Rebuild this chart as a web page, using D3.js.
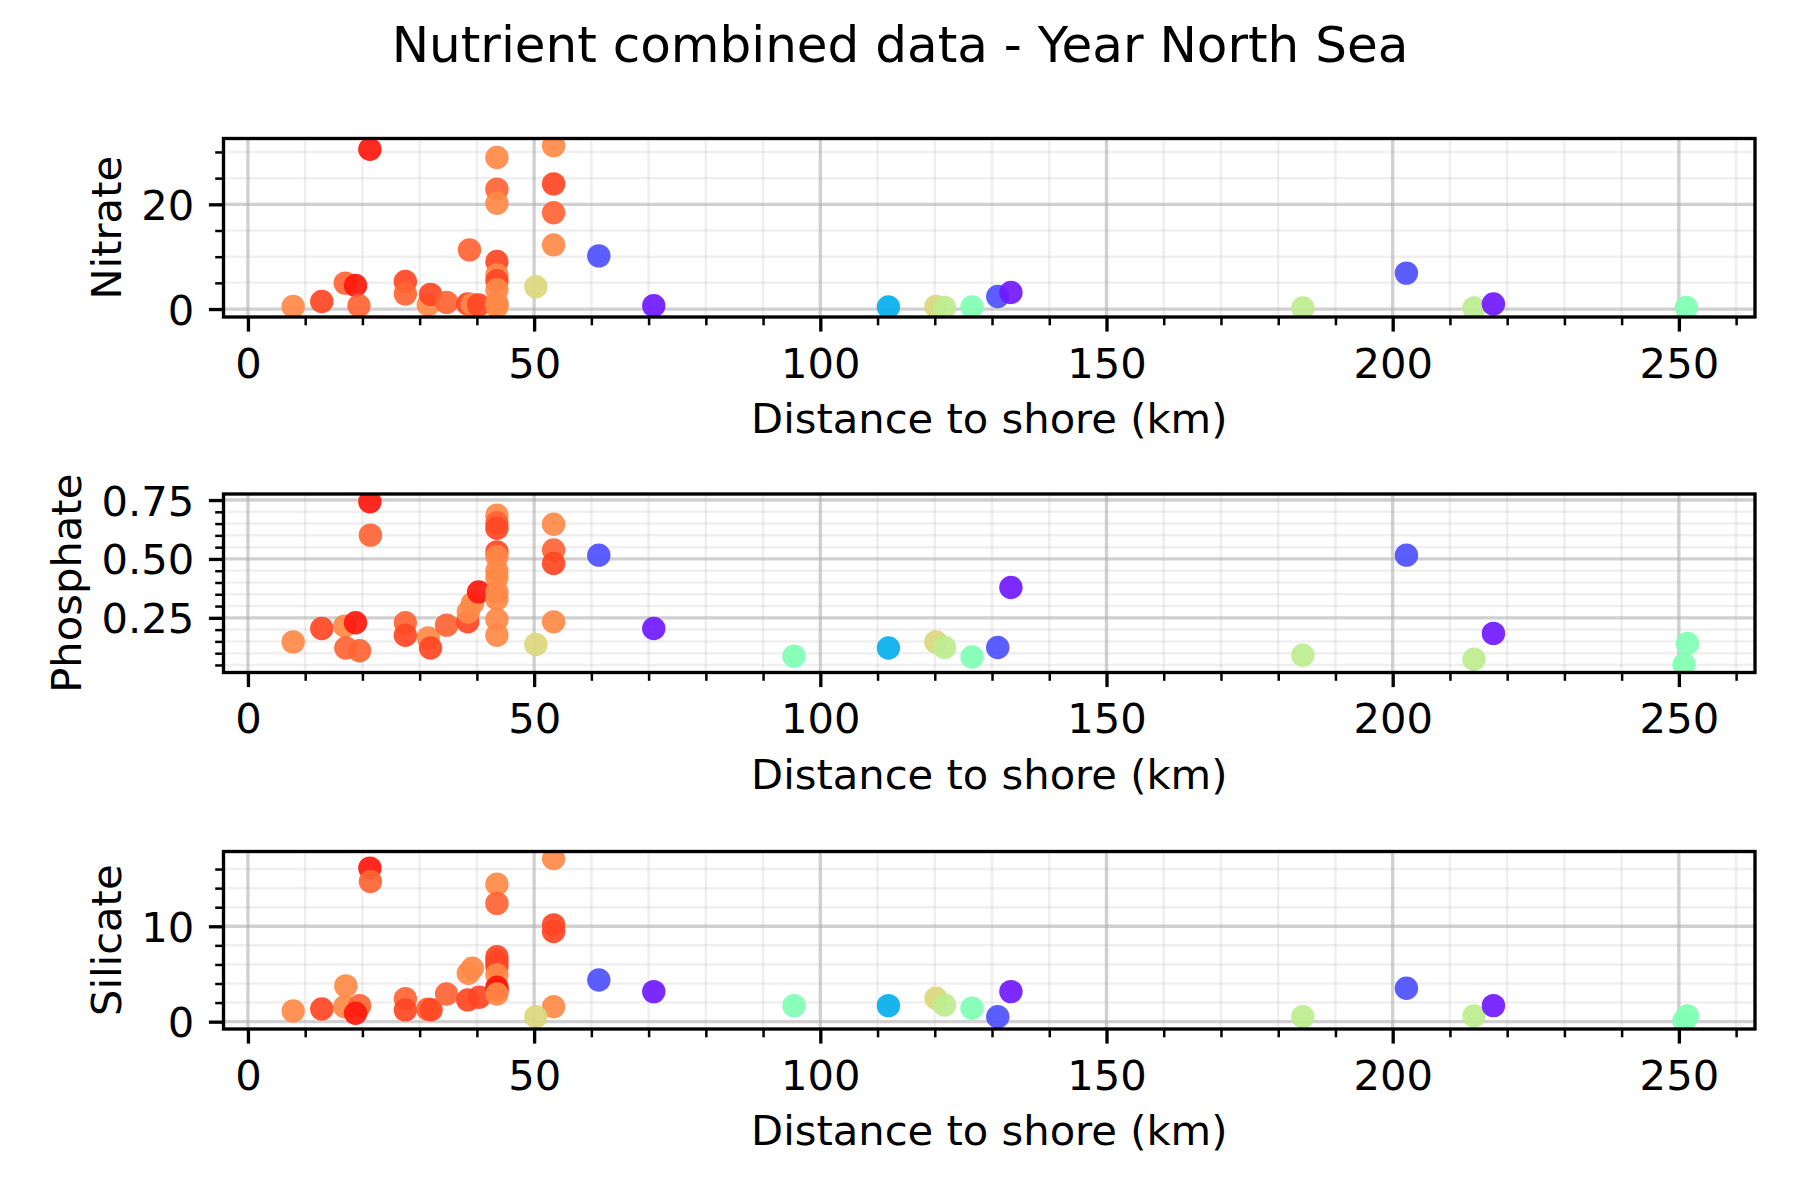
<!DOCTYPE html>
<html><head><meta charset="utf-8">
<script src="https://cdn.jsdelivr.net/npm/d3@7"></script>
<style>
body{margin:0;background:#fff}
svg{display:block}
text{font-family:"DejaVu Sans",sans-serif;fill:#000}
</style>
</head><body>
<svg id="chart" width="1800" height="1200"></svg>
<script>
// ---------------- data ----------------
const chartTitle = "Nutrient combined data - Year North Sea";
const xLabel = "Distance to shore (km)";
const panelNames = ["Nitrate", "Phosphate", "Silicate"];

const xLimits = [-4.27, 263.3];
const xMajorTicks = [0, 50, 100, 150, 200, 250];
const xMinorTicks = [10, 20, 30, 40, 60, 70, 80, 90, 110, 120, 130, 140, 160, 170, 180, 190, 210, 220, 230, 240, 260];

const nitrateLimits = [-1.52, 32.57];
const nitrateTicks = [0, 20];
const nitrateMinor = [5, 10, 15, 25, 30];
const nitrateTickLabels = ["0", "20"];

const phosphateLimits = [0.018, 0.7756];
const phosphateTicks = [0.25, 0.50, 0.75];
const phosphateMinor = [0.05, 0.10, 0.15, 0.20, 0.30, 0.35, 0.40, 0.45, 0.55, 0.60, 0.65, 0.70];
const phosphateTickLabels = ["0.25", "0.50", "0.75"];

const silicateLimits = [-0.77, 17.84];
const silicateTicks = [0, 10];
const silicateMinor = [2, 4, 6, 8, 12, 14, 16];
const silicateTickLabels = ["0", "10"];

// colour variable (0..1 on the rainbow colour map), one level per colour seen
const colourLevel = {R: 0.97, RO: 0.91, OR: 0.87, O: 0.82, K: 0.68, LG: 0.62, M: 0.50, C: 0.24, B: 0.10, P: 0.03};

// [distance to shore (km), value, colour]
const nitratePoints = [
  [7.9, 0.5, "O"], [12.9, 1.45, "RO"], [17.0, 4.95, "OR"], [18.8, 4.5, "R"], [19.4, 0.63, "OR"],
  [21.3, 30.5, "R"], [27.5, 5.26, "RO"], [27.5, 2.9, "OR"], [31.5, 0.82, "O"], [31.9, 2.8, "RO"],
  [34.7, 1.27, "OR"], [38.7, 11.3, "OR"], [38.4, 0.95, "RO"], [39.2, 0.9, "O"], [40.3, 0.8, "RO"],
  [43.5, 28.95, "O"], [43.5, 22.9, "OR"], [43.5, 20.2, "O"], [43.5, 9.07, "RO"], [43.5, 6.5, "O"],
  [43.5, 5.4, "RO"], [43.5, 3.7, "O"], [43.5, 1.1, "O"], [43.5, 0.5, "O"], [50.3, 4.25, "K"],
  [53.4, 31.2, "O"], [53.4, 23.9, "RO"], [53.4, 18.4, "OR"], [53.4, 12.25, "O"], [61.3, 10.15, "B"],
  [70.9, 0.63, "P"], [111.9, 0.38, "C"], [120.2, 0.5, "K"], [121.7, 0.3, "LG"], [126.5, 0.38, "M"],
  [131.0, 2.4, "B"], [133.3, 3.17, "P"], [184.3, 0.2, "LG"], [202.4, 6.86, "B"], [214.2, 0.19, "LG"],
  [217.6, 0.95, "P"], [251.3, 0.3, "M"]
];

const phosphatePoints = [
  [7.9, 0.148, "O"], [12.9, 0.205, "RO"], [16.9, 0.215, "O"], [17.1, 0.122, "OR"], [18.8, 0.229, "R"],
  [19.5, 0.11, "OR"], [21.3, 0.743, "R"], [21.4, 0.601, "OR"], [27.5, 0.229, "OR"], [27.5, 0.176, "RO"],
  [31.5, 0.165, "O"], [31.9, 0.122, "RO"], [34.7, 0.219, "OR"], [38.4, 0.233, "RO"], [38.5, 0.275, "O"],
  [39.2, 0.311, "O"], [40.3, 0.36, "R"],
  [43.5, 0.686, "O"], [43.5, 0.654, "OR"], [43.5, 0.63, "RO"], [43.5, 0.53, "RO"], [43.5, 0.51, "O"],
  [43.5, 0.45, "O"], [43.5, 0.42, "O"], [43.5, 0.36, "O"], [43.5, 0.33, "O"], [43.5, 0.243, "O"], [43.5, 0.176, "O"],
  [53.4, 0.647, "O"], [53.4, 0.538, "OR"], [53.4, 0.481, "RO"], [53.4, 0.233, "O"],
  [50.3, 0.137, "K"], [61.3, 0.516, "B"], [70.9, 0.205, "P"], [95.4, 0.087, "M"], [111.9, 0.122, "C"],
  [120.2, 0.148, "K"], [121.7, 0.124, "LG"], [126.5, 0.084, "M"], [131.0, 0.124, "B"], [133.3, 0.379, "P"],
  [184.3, 0.091, "LG"], [202.4, 0.516, "B"], [214.2, 0.074, "LG"], [217.6, 0.184, "P"],
  [251.5, 0.141, "M"], [250.9, 0.052, "M"]
];

const silicatePoints = [
  [7.9, 1.12, "O"], [12.9, 1.33, "RO"], [17.1, 3.75, "O"], [16.9, 1.57, "O"], [19.5, 1.68, "OR"],
  [18.8, 0.88, "R"], [21.3, 16.1, "R"], [21.4, 14.7, "OR"], [27.5, 2.4, "OR"], [27.5, 1.23, "RO"],
  [31.4, 1.3, "OR"], [32.0, 1.25, "RO"], [34.7, 2.9, "OR"], [38.4, 2.28, "RO"], [38.5, 5.08, "O"],
  [39.2, 5.6, "O"], [40.4, 2.56, "RO"],
  [43.5, 14.4, "O"], [43.5, 12.4, "OR"], [43.5, 6.8, "RO"], [43.5, 6.3, "RO"], [43.5, 5.77, "RO"],
  [43.5, 4.9, "O"], [43.5, 3.6, "R"], [43.5, 3.3, "R"], [43.5, 2.9, "O"],
  [53.4, 17.1, "O"], [53.4, 10.15, "RO"], [53.4, 9.45, "RO"], [53.4, 1.57, "O"],
  [50.3, 0.52, "K"], [61.3, 4.37, "B"], [70.9, 3.15, "P"], [95.4, 1.68, "M"], [111.9, 1.68, "C"],
  [120.2, 2.45, "K"], [121.7, 1.75, "LG"], [126.5, 1.4, "M"], [131.0, 0.52, "B"], [133.3, 3.15, "P"],
  [184.3, 0.52, "LG"], [202.4, 3.5, "B"], [214.2, 0.6, "LG"], [217.6, 1.68, "P"],
  [251.5, 0.6, "M"], [250.9, 0.1, "M"]
];

// ---------------- layout & style ----------------
const svg = d3.select("#chart");
const axLeft = 223.5, axRight = 1755;
const panelTops = [138.5, 494, 851.5];
const panelBottoms = [317, 672.5, 1029];
const fontPx = 41.67, titlePx = 50;
const majorTick = 14.6, minorTick = 8.3, tickPad = 14.6;
const spineW = 3.33;
const markerR = 11.7;

// matplotlib "rainbow" colour map
function rainbow(t) {
  const r = Math.min(1, Math.abs(2 * t - 0.5));
  const g = Math.sin(Math.PI * t);
  const b = Math.cos(Math.PI * t / 2);
  return d3.rgb(255 * r, 255 * g, 255 * b).formatHex();
}
const colour = d3.scaleSequential(rainbow).domain([0, 1]);

const x = d3.scaleLinear().domain(xLimits).range([axLeft, axRight]);

svg.append("text")
  .attr("x", 900).attr("y", 62)
  .attr("text-anchor", "middle")
  .style("font-size", titlePx + "px")
  .text(chartTitle);

const panels = [
  {name: panelNames[0], pts: nitratePoints, lim: nitrateLimits, ticks: nitrateTicks, minor: nitrateMinor, labels: nitrateTickLabels},
  {name: panelNames[1], pts: phosphatePoints, lim: phosphateLimits, ticks: phosphateTicks, minor: phosphateMinor, labels: phosphateTickLabels},
  {name: panelNames[2], pts: silicatePoints, lim: silicateLimits, ticks: silicateTicks, minor: silicateMinor, labels: silicateTickLabels}
];

panels.forEach((p, i) => {
  const top = panelTops[i], bottom = panelBottoms[i];
  const y = d3.scaleLinear().domain(p.lim).range([bottom, top]);
  const g = svg.append("g");

  // grid (minor then major)
  const grid = g.append("g");
  grid.selectAll("line.xmin").data(xMinorTicks).join("line")
    .attr("x1", d => x(d)).attr("x2", d => x(d)).attr("y1", top).attr("y2", bottom)
    .attr("stroke", "#b0b0b0").attr("stroke-opacity", 0.2).attr("stroke-width", 2.5);
  grid.selectAll("line.ymin").data(p.minor).join("line")
    .attr("y1", d => y(d)).attr("y2", d => y(d)).attr("x1", axLeft).attr("x2", axRight)
    .attr("stroke", "#b0b0b0").attr("stroke-opacity", 0.2).attr("stroke-width", 2.5);
  grid.selectAll("line.xmaj").data(xMajorTicks).join("line")
    .attr("x1", d => x(d)).attr("x2", d => x(d)).attr("y1", top).attr("y2", bottom)
    .attr("stroke", "#b0b0b0").attr("stroke-opacity", 0.6).attr("stroke-width", 3.33);
  grid.selectAll("line.ymaj").data(p.ticks).join("line")
    .attr("y1", d => y(d)).attr("y2", d => y(d)).attr("x1", axLeft).attr("x2", axRight)
    .attr("stroke", "#b0b0b0").attr("stroke-opacity", 0.6).attr("stroke-width", 3.33);

  // points
  const clipId = "clip" + i;
  svg.append("clipPath").attr("id", clipId).append("rect")
    .attr("x", axLeft).attr("y", top).attr("width", axRight - axLeft).attr("height", bottom - top);
  g.append("g").attr("clip-path", `url(#${clipId})`)
    .selectAll("circle").data(p.pts).join("circle")
    .attr("cx", d => x(d[0])).attr("cy", d => y(d[1])).attr("r", markerR)
    .attr("fill", d => colour(colourLevel[d[2]])).attr("fill-opacity", 0.92);

  // axes
  const xa = g.append("g").attr("transform", `translate(0,${bottom})`)
    .call(d3.axisBottom(x).tickValues(xMajorTicks).tickFormat(d3.format("d")).tickSize(majorTick).tickPadding(tickPad).tickSizeOuter(0));
  const xm = g.append("g").attr("transform", `translate(0,${bottom})`)
    .call(d3.axisBottom(x).tickValues(xMinorTicks).tickFormat("").tickSize(minorTick).tickSizeOuter(0));
  const ya = g.append("g").attr("transform", `translate(${axLeft},0)`)
    .call(d3.axisLeft(y).tickValues(p.ticks).tickFormat((d, k) => p.labels[k]).tickSize(majorTick).tickPadding(tickPad).tickSizeOuter(0));
  const ym = g.append("g").attr("transform", `translate(${axLeft},0)`)
    .call(d3.axisLeft(y).tickValues(p.minor).tickFormat("").tickSize(minorTick).tickSizeOuter(0));
  [xa, xm, ya, ym].forEach(a => {
    a.select(".domain").remove();
    a.attr("font-family", null).attr("font-size", null);
    a.selectAll("text").style("font-size", fontPx + "px").attr("fill", "#000");
  });
  [xa, ya].forEach(a => a.selectAll("line").attr("stroke", "#000").attr("stroke-width", 3.33));
  [xm, ym].forEach(a => a.selectAll("line").attr("stroke", "#000").attr("stroke-width", 2.5));
  xa.selectAll("text").attr("dy", "0.76em");
  ya.selectAll("text").attr("dy", "0.36em");

  // frame
  g.append("rect").attr("x", axLeft).attr("y", top).attr("width", axRight - axLeft).attr("height", bottom - top)
    .attr("fill", "none").attr("stroke", "#000").attr("stroke-width", spineW);

  // x label
  g.append("text").attr("x", (axLeft + axRight) / 2).attr("y", bottom + 116)
    .attr("text-anchor", "middle").style("font-size", fontPx + "px").text(xLabel);

  // y label, placed left of the tick labels like matplotlib
  let minX = Infinity;
  ya.selectAll("text").each(function () {
    const bb = this.getBBox();
    minX = Math.min(minX, axLeft + bb.x);
  });
  const baseX = minX - 16.7 - 0.236 * fontPx + 6;
  g.append("text")
    .attr("transform", `translate(${baseX},${(top + bottom) / 2}) rotate(-90)`)
    .attr("text-anchor", "middle").style("font-size", fontPx + "px").text(p.name);
});
</script>
</body></html>
